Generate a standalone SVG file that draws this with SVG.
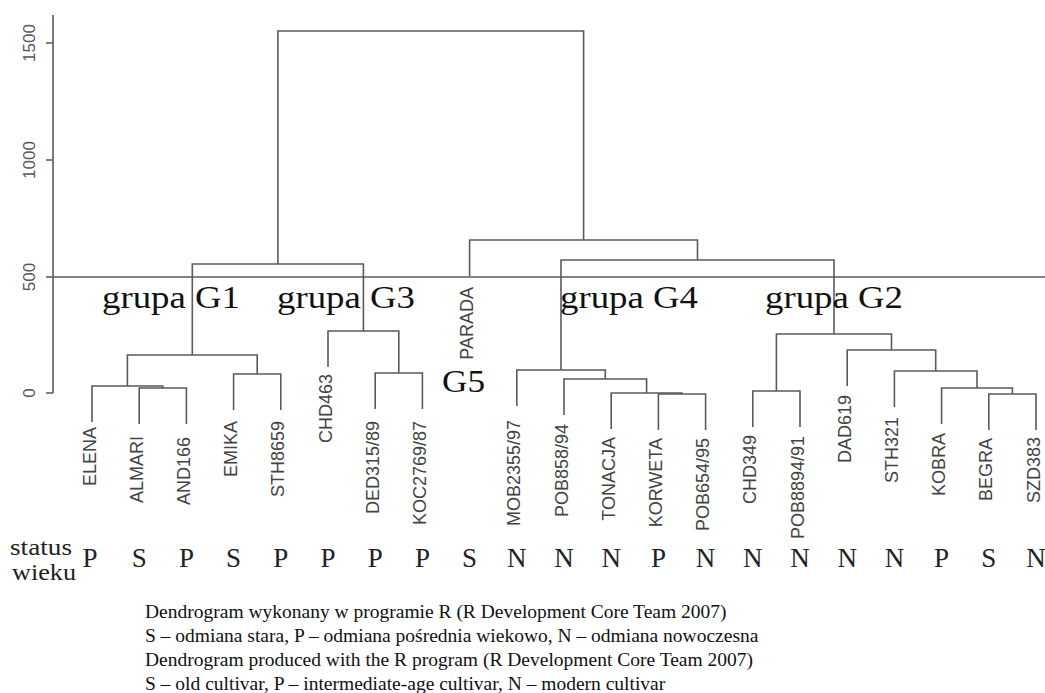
<svg xmlns="http://www.w3.org/2000/svg" width="1045" height="693" viewBox="0 0 1045 693">
<style>
.ln{fill:none;stroke:#5a5a5a;stroke-width:1.6}
.ax{fill:none;stroke:#5a5a5a;stroke-width:1.6}
.tk{font-family:"Liberation Sans",Arial,sans-serif;font-size:17px;fill:#555;text-anchor:middle}
.lb{font-family:"Liberation Sans",Arial,sans-serif;font-size:18px;fill:#444;text-anchor:end}
.gr{font-family:"Liberation Serif","Times New Roman",serif;font-size:31px;fill:#111}
.st{font-family:"Liberation Serif","Times New Roman",serif;font-size:27px;fill:#222;text-anchor:middle}
.sw{font-family:"Liberation Serif","Times New Roman",serif;font-size:22.5px;fill:#222}
.ft{font-family:"Liberation Serif","Times New Roman",serif;font-size:19.5px;fill:#111}
</style>
<rect width="1045" height="693" fill="#fff"/>
<g id="axis">
<path class="ax" d="M53 15V393M46 43H53M46 160H53M46 277H53M46 393H53"/>
<text class="tk" transform="translate(35,43) rotate(-90)">1500</text>
<text class="tk" transform="translate(35,160) rotate(-90)">1000</text>
<text class="tk" transform="translate(35,277) rotate(-90)">500</text>
<text class="tk" transform="translate(35,393) rotate(-90)">0</text>
</g>
<g id="cutline"><path class="ax" d="M53 277H1045"/></g>
<g id="connectors">
<path class="ln" d="M139.2 424V388H186.4V424"/>
<path class="ln" d="M92 422V386H162.8V388"/>
<path class="ln" d="M233.6 410V374H280.8V410"/>
<path class="ln" d="M127.4 386V355H257.2V374"/>
<path class="ln" d="M375.2 409V373H422.4V409"/>
<path class="ln" d="M328 367V331H398.8V373"/>
<path class="ln" d="M192.3 355V264H363.4V331"/>
<path class="ln" d="M658.4 430V394H705.6V430"/>
<path class="ln" d="M611.2 429V393H682V394"/>
<path class="ln" d="M564 415V379H646.6V393"/>
<path class="ln" d="M516.8 406V370H605.3V379"/>
<path class="ln" d="M752.8 427V391H800V427"/>
<path class="ln" d="M988.8 430V394H1036V430"/>
<path class="ln" d="M941.6 424V388H1012.4V394"/>
<path class="ln" d="M894.4 407V371H977V388"/>
<path class="ln" d="M847.2 386V350H935.7V371"/>
<path class="ln" d="M776.4 391V334H891.5V350"/>
<path class="ln" d="M561 370V260H834V334"/>
<path class="ln" d="M469.6 276V240H697.5V260"/>
<path class="ln" d="M277.9 264V31H583.6V240"/>
</g>
<g id="leaves">
<g id="n-ELENA"><text class="lb" transform="translate(95.5,427) rotate(-90)">ELENA</text></g>
<g id="n-ALMARI"><text class="lb" transform="translate(142.7,436) rotate(-90)">ALMARI</text></g>
<g id="n-AND166"><text class="lb" transform="translate(189.9,437) rotate(-90)">AND166</text></g>
<g id="n-EMIKA"><text class="lb" transform="translate(237.1,421) rotate(-90)">EMIKA</text></g>
<g id="n-STH8659"><text class="lb" transform="translate(284.3,421) rotate(-90)">STH8659</text></g>
<g id="n-CHD463"><text class="lb" transform="translate(331.5,374) rotate(-90)">CHD463</text></g>
<g id="n-DED315-89"><text class="lb" transform="translate(378.7,421) rotate(-90)">DED315/89</text></g>
<g id="n-KOC2769-87"><text class="lb" transform="translate(425.9,421) rotate(-90)">KOC2769/87</text></g>
<g id="n-PARADA"><text class="lb" transform="translate(473.1,287) rotate(-90)">PARADA</text></g>
<g id="n-MOB2355-97"><text class="lb" transform="translate(520.3,420) rotate(-90)">MOB2355/97</text></g>
<g id="n-POB858-94"><text class="lb" transform="translate(567.5,424) rotate(-90)">POB858/94</text></g>
<g id="n-TONACJA"><text class="lb" transform="translate(614.7,437) rotate(-90)">TONACJA</text></g>
<g id="n-KORWETA"><text class="lb" transform="translate(661.9,438) rotate(-90)">KORWETA</text></g>
<g id="n-POB654-95"><text class="lb" transform="translate(709.1,438) rotate(-90)">POB654/95</text></g>
<g id="n-CHD349"><text class="lb" transform="translate(756.3,435) rotate(-90)">CHD349</text></g>
<g id="n-POB8894-91"><text class="lb" transform="translate(803.5,436) rotate(-90)">POB8894/91</text></g>
<g id="n-DAD619"><text class="lb" transform="translate(850.7,395) rotate(-90)">DAD619</text></g>
<g id="n-STH321"><text class="lb" transform="translate(897.9,417) rotate(-90)">STH321</text></g>
<g id="n-KOBRA"><text class="lb" transform="translate(945.1,433) rotate(-90)">KOBRA</text></g>
<g id="n-BEGRA"><text class="lb" transform="translate(992.3,438) rotate(-90)">BEGRA</text></g>
<g id="n-SZD383"><text class="lb" transform="translate(1039.5,437) rotate(-90)">SZD383</text></g>
</g>
<g id="groups">
<text class="gr" x="102" y="308" textLength="138" lengthAdjust="spacingAndGlyphs">grupa G1</text>
<text class="gr" x="277" y="308" textLength="138" lengthAdjust="spacingAndGlyphs">grupa G3</text>
<text class="gr" x="560" y="308" textLength="138" lengthAdjust="spacingAndGlyphs">grupa G4</text>
<text class="gr" x="765" y="308" textLength="138" lengthAdjust="spacingAndGlyphs">grupa G2</text>
<text class="gr" x="442" y="392" textLength="43" lengthAdjust="spacingAndGlyphs">G5</text>
</g>
<g id="status">
<text class="sw" x="10" y="555" textLength="62" lengthAdjust="spacingAndGlyphs">status</text>
<text class="sw" x="12" y="580" textLength="64" lengthAdjust="spacingAndGlyphs">wieku</text>
<text class="st" y="567"><tspan x="90">P</tspan><tspan x="139.2">S</tspan><tspan x="186.4">P</tspan><tspan x="233.6">S</tspan><tspan x="280.8">P</tspan><tspan x="328">P</tspan><tspan x="375.2">P</tspan><tspan x="422.4">P</tspan><tspan x="469.6">S</tspan><tspan x="516.8">N</tspan><tspan x="564">N</tspan><tspan x="611.2">N</tspan><tspan x="658.4">P</tspan><tspan x="705.6">N</tspan><tspan x="752.8">N</tspan><tspan x="800">N</tspan><tspan x="847.2">N</tspan><tspan x="894.4">N</tspan><tspan x="941.6">P</tspan><tspan x="988.8">S</tspan><tspan x="1036">N</tspan></text>
</g>
<g id="caption">
<text class="ft" x="145" y="618">Dendrogram wykonany w programie R (R Development Core Team 2007)</text>
<text class="ft" x="145" y="642">S – odmiana stara, P – odmiana pośrednia wiekowo, N – odmiana nowoczesna</text>
<text class="ft" x="145" y="666">Dendrogram produced with the R program (R Development Core Team 2007)</text>
<text class="ft" x="145" y="690">S – old cultivar, P – intermediate-age cultivar, N – modern cultivar</text>
</g>
</svg>
